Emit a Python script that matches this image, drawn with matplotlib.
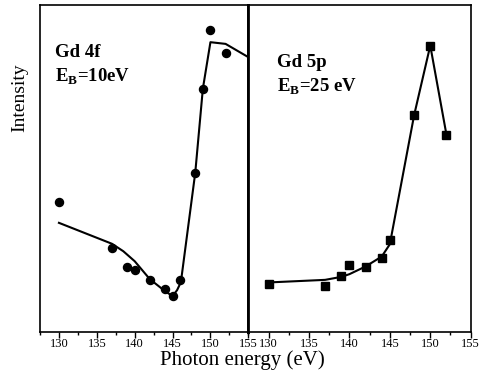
import matplotlib
matplotlib.use("Agg")
import matplotlib.pyplot as plt
from matplotlib.ticker import MultipleLocator

plt.rcParams['font.family'] = ['Liberation Serif', 'DejaVu Serif']
plt.rcParams['mathtext.fontset'] = 'custom'
plt.rcParams['mathtext.rm'] = 'Liberation Serif'
plt.rcParams['mathtext.bf'] = 'Liberation Serif:bold'

# Gd 4f (EB = 10 eV), intensity in arbitrary units
f_energy = [130, 137, 139, 140, 142, 144, 145, 146, 148, 149, 150, 152]
f_points = [130.3, 84, 65.3, 62, 52.3, 42.7, 35.7, 52, 159.3, 243.7, 302.7, 280.3]
f_fit_energy = [130, 137, 138.5, 140, 142, 144, 145, 145.6, 146.1, 148, 149, 150, 152, 155]
f_fit = [109.5, 88.5, 81, 71, 53, 41, 36, 42, 50, 160, 244, 290.7, 289, 275.7]

# Gd 5p (EB = 25 eV)
p_energy = [130, 137, 139, 140, 142, 144, 145, 148, 150, 152]
p_points = [48, 46, 55.7, 67.7, 65.7, 74.7, 92.3, 217.3, 287.3, 198]
p_fit_energy = [130, 137, 139, 140, 142, 144, 145, 148, 150, 152]
p_fit = [49.7, 52.3, 55.3, 58, 65.7, 75.7, 88, 217.3, 287.3, 198]


def px(x, y):
    """pixel position (from top-left) to figure fraction"""
    return x / 480, 1 - y / 384


fig = plt.figure(figsize=(4.8, 3.84), dpi=100)
ax1 = fig.add_axes([40 / 480, 52 / 384, 208.3 / 480, 327 / 384])
ax2 = fig.add_axes([248.3 / 480, 52 / 384, 222.4 / 480, 327 / 384])

ax1.plot(f_fit_energy, f_fit, color='black', lw=1.5)
ax1.plot(f_energy, f_points, 'o', color='black', ms=5.8)
ax2.plot(p_fit_energy, p_fit, color='black', lw=1.5)
ax2.plot(p_energy, p_points, 's', color='black', ms=5.5)

for ax in (ax1, ax2):
    ax.set_xlim(127.5, 155)
    ax.set_ylim(0, 328)
    ax.xaxis.set_major_locator(MultipleLocator(5))
    ax.xaxis.set_minor_locator(MultipleLocator(2.5))
    ax.tick_params(axis='x', which='major', direction='out', length=4, width=1,
                   labelsize=9, pad=0.5, top=False)
    ax.tick_params(axis='x', which='minor', direction='out', length=2.5, width=1, top=False)
    ax.set_yticks([])
    for s in ax.spines.values():
        s.set_linewidth(1.2)
ax1.spines['right'].set_linewidth(2)
ax2.spines['left'].set_linewidth(2)

fig.text(*px(55, 57), 'Gd 4f', fontsize=13.5, fontweight='bold')
fig.text(*px(55, 82), r'E$_\mathbf{B}$=10eV', fontsize=13.5, fontweight='bold')
fig.text(*px(277, 67), 'Gd 5p', fontsize=13.5, fontweight='bold')
fig.text(*px(277, 92), r'E$_\mathbf{B}$=25 eV', fontsize=13.5, fontweight='bold')

fig.text(*px(242, 360), 'Photon energy (eV)', ha='center', va='center', fontsize=15)
fig.text(*px(20, 97.5), 'Intensity', ha='center', va='center', rotation=90, fontsize=14)

fig.savefig('out.png', dpi=100)
